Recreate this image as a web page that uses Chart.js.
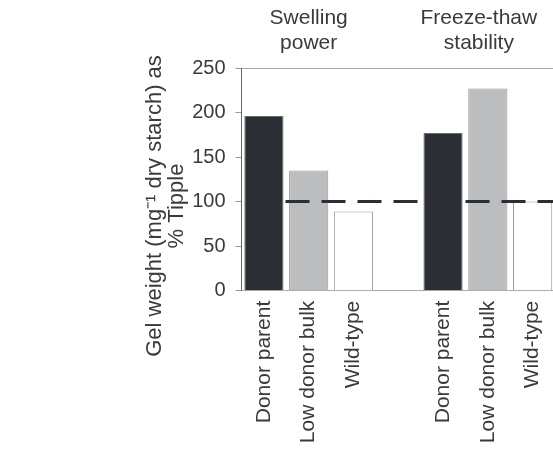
<!DOCTYPE html>
<html>
<head>
<meta charset="utf-8">
<script src="https://cdn.jsdelivr.net/npm/chart.js@4/dist/chart.umd.min.js"></script>
<style>
  html, body { margin: 0; padding: 0; background: #fff; overflow: hidden; }
  #wrap { width: 555px; height: 450px; }
</style>
</head>
<body>
<div id="wrap"><canvas id="c" width="555" height="450"></canvas></div>
<script>
// Bar categories (one empty slot separates the two trait groups)
const categories = ['Donor parent', 'Low donor bulk', 'Wild-type', '', 'Donor parent', 'Low donor bulk', 'Wild-type'];
// Trait groups shown above the bars
const groupTitles = [['Swelling', 'power'], ['Freeze-thaw', 'stability']];
// Gel weight (mg-1 dry starch) as % of Tipple, per trait group
const donorParent = [196, 177];
const lowDonorBulk = [135, 227];
const wildType = [89, 100];
// Tipple reference level
const tippleLevel = 100;
// Y axis ticks
const yTicks = [0, 50, 100, 150, 200, 250];

const FONT = "'Liberation Sans', Arial, sans-serif";
const TEXT = '#3a3a3a';
const DARK = '#2b2e35';
const GREY = '#bcbdbf';

// slot index of the first bar in each group
const groupStart = [0, 4];

const donorData = categories.map(() => null);
const otherData = categories.map(() => null);
const otherFill = categories.map(() => GREY);
groupStart.forEach((s, g) => {
  donorData[s] = donorParent[g];
  otherData[s + 1] = lowDonorBulk[g];
  otherData[s + 2] = wildType[g];
  otherFill[s + 1] = GREY;
  otherFill[s + 2] = '#ffffff';
});

// group-title anchors on the slot axis
const titleAnchor = [1, 4.8];

const headerPlugin = {
  id: 'header',
  afterDraw(chart) {
    const ctx = chart.ctx;
    const xs = chart.scales.xLine;
    ctx.save();
    ctx.fillStyle = TEXT;
    ctx.font = '21px ' + FONT;
    ctx.textAlign = 'center';
    ctx.textBaseline = 'alphabetic';
    groupTitles.forEach((lines, g) => {
      const x = xs.getPixelForValue(titleAnchor[g]);
      lines.forEach((t, i) => ctx.fillText(t, x, 24 + i * 25));
    });
    // y axis title
    ctx.font = '22px ' + FONT;
    ctx.translate(166, 206);
    ctx.rotate(-Math.PI / 2);
    ctx.textBaseline = 'middle';
    ctx.fillText('Gel weight (mg\u207B\u00B9 dry starch) as', 0, -11);
    ctx.fillText('% Tipple', 0, 11);
    ctx.restore();
  }
};

new Chart(document.getElementById('c'), {
  data: {
    labels: categories,
    datasets: [
      {
        type: 'bar',
        data: donorData,
        backgroundColor: DARK,
        borderColor: '#6b6d72',
        borderWidth: 1,
        grouped: false,
        categoryPercentage: 1,
        barPercentage: 0.875,
        order: 0
      },
      {
        type: 'line',
        xAxisID: 'xLine',
        data: [{ x: -0.5, y: tippleLevel }, { x: categories.length - 0.5, y: tippleLevel }],
        borderColor: DARK,
        borderWidth: 3,
        borderDash: [24, 12],
        borderDashOffset: 28,
        pointRadius: 0,
        fill: false,
        order: 1
      },
      {
        type: 'bar',
        data: otherData,
        backgroundColor: otherFill,
        borderColor: '#9a9a9a',
        borderWidth: 1,
        grouped: false,
        categoryPercentage: 1,
        barPercentage: 0.875,
        order: 2
      }
    ]
  },
  options: {
    responsive: false,
    animation: false,
    events: [],
    layout: { padding: { left: 0, top: 68, right: 0, bottom: 0 } },
    plugins: { legend: { display: false }, tooltip: { enabled: false } },
    scales: {
      x: {
        type: 'category',
        offset: true,
        grid: { display: false, drawTicks: false },
        border: { display: true, color: '#aaaaaa', width: 1 },
        ticks: {
          autoSkip: false,
          minRotation: 90,
          maxRotation: 90,
          padding: 10,
          color: TEXT,
          font: { family: FONT, size: 21 }
        },
        afterFit(s) {
          s.height = 159.3;
          s.paddingLeft = 0;
          s.paddingRight = 0;
        }
      },
      xLine: {
        type: 'linear',
        display: false,
        min: -0.5,
        max: categories.length - 0.5
      },
      y: {
        min: 0,
        max: 250,
        afterBuildTicks(s) { s.ticks = yTicks.map(v => ({ value: v })); },
        grid: {
          color: c => (c.tick && c.tick.value === 250 ? '#a8a8a8' : 'rgba(0,0,0,0)'),
          tickColor: '#999999',
          tickLength: 6,
          drawTicks: true
        },
        border: { display: true, color: '#666666', width: 1 },
        ticks: {
          padding: 10,
          color: TEXT,
          font: { family: FONT, size: 20 }
        },
        afterFit(s) { s.width = 241.5; }
      }
    }
  },
  plugins: [headerPlugin]
});
</script>
</body>
</html>
